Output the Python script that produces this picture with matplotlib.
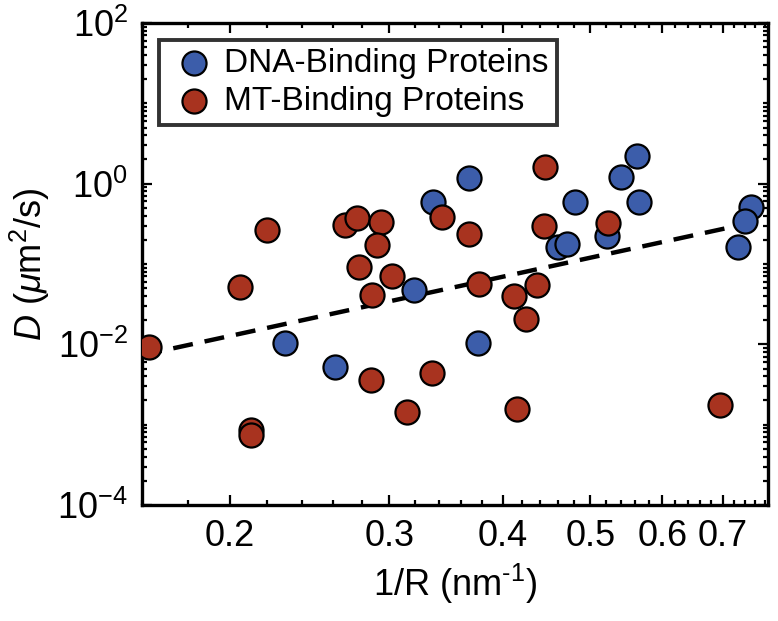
import numpy as np
import matplotlib
matplotlib.use("Agg")
import matplotlib.pyplot as plt
from matplotlib.ticker import FixedLocator, FixedFormatter, LogLocator, NullFormatter

plt.rcParams['font.family'] = ['Liberation Sans', 'DejaVu Sans']
plt.rcParams['mathtext.fontset'] = 'custom'
plt.rcParams['mathtext.rm'] = 'Liberation Sans'
plt.rcParams['mathtext.it'] = 'Liberation Sans:italic'
plt.rcParams['axes.unicode_minus'] = False

# DNA-binding proteins: 1/R (nm^-1), D (um^2/s)
dna_x = [0.335, 0.367, 0.319, 0.481, 0.460, 0.471, 0.540, 0.563, 0.565, 0.522,
         0.751, 0.741, 0.728, 0.230, 0.261, 0.376]
dna_d = [0.590, 1.175, 0.0473, 0.590, 0.162, 0.177, 1.21, 2.21, 0.590, 0.222,
         0.511, 0.342, 0.162, 0.01035, 0.0052, 0.0104]

# MT-binding proteins
mt_x = [0.220, 0.205, 0.268, 0.276, 0.294, 0.291, 0.278, 0.302, 0.287, 0.343,
        0.367, 0.446, 0.444, 0.523, 0.377, 0.437, 0.412, 0.425, 0.163, 0.286,
        0.334, 0.314, 0.211, 0.211, 0.415, 0.694]
mt_d = [0.264, 0.0515, 0.305, 0.373, 0.333, 0.172, 0.0915, 0.0707, 0.0410, 0.384,
        0.236, 1.61, 0.297, 0.323, 0.0562, 0.0546, 0.0398, 0.0206, 0.00923, 0.00358,
        0.00438, 0.00143, 0.000855, 0.00074, 0.00156, 0.00175]

# power-law fit D = A * (1/R)^b
fit_a = 0.655
fit_b = 2.45

x_lim = (0.16, 0.785)
y_lim = (1e-4, 1e2)
x_ticks = [0.2, 0.3, 0.4, 0.5, 0.6, 0.7]
x_ticklabels = ['0.2', '0.3', '0.4', '0.5', '0.6', '0.7']

blue = '#3C5DAA'
red = '#A8331F'

fig = plt.figure(figsize=(7.78, 6.21), dpi=100)
ax = fig.add_axes([142 / 778, 1 - 505 / 621, (768 - 142) / 778, (505 - 23) / 621])

xf = np.array(x_lim)
ax.plot(xf, fit_a * xf ** fit_b, color='black', lw=3.2, ls=(0, (4.5, 2.7)), zorder=2)

ax.scatter(dna_x, dna_d, s=300, c=blue, edgecolors='black', linewidths=1.6,
           label='DNA-Binding Proteins', zorder=3)
ax.scatter(mt_x, mt_d, s=300, c=red, edgecolors='black', linewidths=1.6,
           label='MT-Binding Proteins', zorder=3)

ax.set_xscale('log')
ax.set_yscale('log')
ax.set_xlim(*x_lim)
ax.set_ylim(*y_lim)

ax.xaxis.set_major_locator(FixedLocator(x_ticks))
ax.xaxis.set_major_formatter(FixedFormatter(x_ticklabels))
minor = [v for v in np.arange(0.16, 0.79, 0.02) if min(abs(v - t) for t in x_ticks) > 1e-6]
ax.xaxis.set_minor_locator(FixedLocator(minor))
ax.xaxis.set_minor_formatter(NullFormatter())

ax.yaxis.set_major_locator(FixedLocator([1e-4, 1e-2, 1e0, 1e2]))
ax.yaxis.set_minor_locator(LogLocator(base=10, subs=np.arange(1, 10), numticks=20))
ax.yaxis.set_minor_formatter(NullFormatter())

ax.tick_params(which='both', direction='in', top=True, right=True, labelsize=26, width=1.6)
ax.tick_params(which='major', length=7, pad=10)
ax.tick_params(which='minor', length=3.5)
for s in ax.spines.values():
    s.set_linewidth(2.4)

ax.set_xlabel(r'1/R (nm$^{\text{-1}}$)', fontsize=26, labelpad=6)
ax.set_ylabel(r'$D$ ($\mu$m$^2$/s)', fontsize=26, labelpad=4)

leg = ax.legend(loc='upper left', fontsize=24, frameon=True, fancybox=False,
                borderpad=0.25, handletextpad=0.1, labelspacing=0.2,
                borderaxespad=0.5, handlelength=1.6)
leg.get_frame().set_edgecolor('black')
leg.get_frame().set_linewidth(2.8)

fig.savefig('out.png', dpi=100)
